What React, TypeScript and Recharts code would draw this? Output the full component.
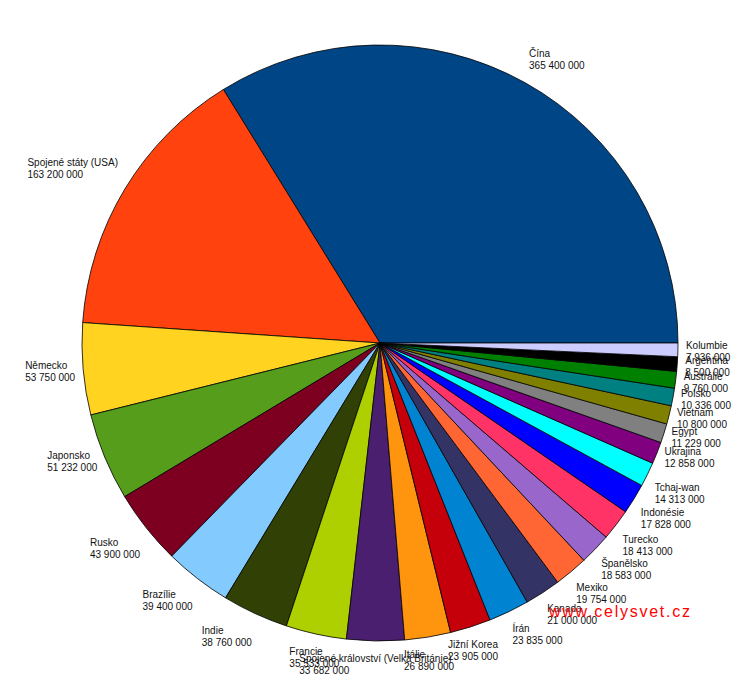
import React from "react";
import { PieChart, Pie, Cell } from "recharts";

const countries = [
  "Čína",
  "Spojené státy (USA)",
  "Německo",
  "Japonsko",
  "Rusko",
  "Brazílie",
  "Indie",
  "Francie",
  "Spojené království (Velká Británie)",
  "Itálie",
  "Jižní Korea",
  "Írán",
  "Kanada",
  "Mexiko",
  "Španělsko",
  "Turecko",
  "Indonésie",
  "Tchaj-wan",
  "Ukrajina",
  "Egypt",
  "Vietnam",
  "Polsko",
  "Austrálie",
  "Argentina",
  "Kolumbie",
];

const values = [
  365400000, 163200000, 53750000, 51232000, 43900000, 39400000, 38760000,
  35533000, 33682000, 26890000, 23905000, 23835000, 21000000, 19754000,
  18583000, 18413000, 17828000, 14313000, 12858000, 11229000, 10800000,
  10336000, 9760000, 8500000, 7936000,
];

const colors = [
  "#004586", "#ff420e", "#ffd320", "#579d1c", "#7e0021", "#83caff",
  "#314004", "#aecf00", "#4b1f6f", "#ff950e", "#c5000b", "#0084d1",
  "#333366", "#ff6633", "#9966cc", "#ff3366", "#0000ff", "#00ffff",
  "#800080", "#808080", "#808000", "#008080", "#008000", "#000000",
  "#ccccff",
];

const data = countries.map((name, i) => ({ name, value: values[i] }));

const fmt = (v: number) =>
  String(v).replace(/\B(?=(\d{3})+(?!\d))/g, " ");

const RAD = Math.PI / 180;
const FONT = "10px 'Liberation Sans', Arial, sans-serif";

let ctx: CanvasRenderingContext2D | null = null;
const measure = (s: string) => {
  if (typeof document === "undefined") return s.length * 5.5;
  if (!ctx) {
    const c = document.createElement("canvas");
    ctx = c.getContext("2d");
  }
  if (!ctx) return s.length * 5.5;
  ctx.font = FONT;
  return ctx.measureText(s).width;
};

const renderLabel = (props: any) => {
  const { cx, cy, midAngle, outerRadius, name, value } = props;
  const r = outerRadius + 8;
  let a = midAngle % 360;
  if (a < 0) a += 360;
  const px = cx + Math.cos(a * RAD) * r;
  const py = cy - Math.sin(a * RAD) * r;
  let h: "left" | "center" | "right" = "center";
  let v: "top" | "center" | "bottom" = "center";
  if (a <= 22.5) { h = "right"; v = "center"; }
  else if (a < 67.5) { h = "right"; v = "top"; }
  else if (a < 112.5) { h = "center"; v = "top"; }
  else if (a <= 157.5) { h = "left"; v = "top"; }
  else if (a <= 203) { h = "left"; v = "center"; }
  else if (a < 247.5) { h = "left"; v = "bottom"; }
  else if (a < 292.5) { h = "center"; v = "bottom"; }
  else if (a < 337.5) { h = "right"; v = "bottom"; }
  else { h = "right"; v = "center"; }
  const valStr = fmt(value);
  const w = Math.max(measure(name), measure(valStr));
  let x0 = px;
  if (h === "left") x0 = px - w;
  if (h === "center") x0 = px - w / 2;
  let y1 = py - 1;
  if (v === "top") y1 = py - 19;
  if (v === "bottom") y1 = py + 13;
  return (
    <text
      x={x0}
      y={y1}
      textAnchor="start"
      fontFamily="'Liberation Sans', Arial, sans-serif"
      fontSize={10}
      fill="#111"
    >
      <tspan x={x0} y={y1}>{name}</tspan>
      <tspan x={x0} y={y1 + 12}>{valStr}</tspan>
    </text>
  );
};

export default function App() {
  return (
    <div
      style={{
        position: "absolute",
        left: 0,
        top: 0,
        width: 740,
        height: 700,
        background: "#fff",
      }}
    >
      <PieChart
        width={740}
        height={700}
        margin={{ top: 0, right: 0, bottom: 0, left: 0 }}
      >
        <Pie
          data={data}
          dataKey="value"
          nameKey="name"
          cx={380}
          cy={343}
          outerRadius={298}
          startAngle={0}
          endAngle={360}
          stroke="#000"
          strokeWidth={0.8}
          label={renderLabel}
          labelLine={false}
          isAnimationActive={false}
        >
          {data.map((d, i) => (
            <Cell key={d.name} fill={colors[i]} />
          ))}
        </Pie>
      </PieChart>
      <svg
        width={740}
        height={700}
        style={{ position: "absolute", left: 0, top: 0, pointerEvents: "none" }}
      >
        <text
          x={549}
          y={617}
          fontFamily="'Liberation Sans', Arial, sans-serif"
          fontSize={16}
          letterSpacing={1.75}
          fill="#ff0000"
        >
          www.celysvet.cz
        </text>
      </svg>
    </div>
  );
}
